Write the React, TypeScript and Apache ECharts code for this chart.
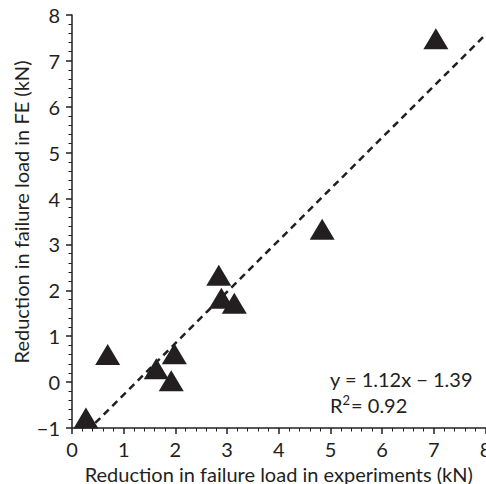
import React, { useEffect, useRef } from "react";
import * as echarts from "echarts";

const expX = [0.27, 0.69, 1.63, 1.92, 1.98, 2.84, 2.89, 3.14, 4.84, 7.04];
const feY = [-0.78, 0.6, 0.29, 0.03, 0.62, 2.33, 1.83, 1.72, 3.33, 7.48];
const trendX = [0.45, 8];
const trendY = [-0.89, 7.57];
const equationText = "y = 1.12x − 1.39";
const r2Value = "0.92";
const xTitle = "Reduction in failure load in experiments (kN)";
const yTitle = "Reduction in failure load in FE (kN)";

const FONT = "Lato, 'Open Sans', sans-serif";
const INK = "#231f20";

export default function App() {
  const ref = useRef<HTMLDivElement>(null);
  useEffect(() => {
    if (!ref.current) return;
    const chart = echarts.init(ref.current, undefined, { renderer: "svg" });
    const fmt = (v: number) => (v < 0 ? "−" + Math.abs(v) : String(v));
    const axisCommon = {
      axisLine: { show: true, onZero: false, lineStyle: { color: INK, width: 1.5 } },
      axisTick: { show: true, inside: false, length: 6, lineStyle: { color: INK, width: 1.5 } },
      minorTick: { show: true, splitNumber: 5, length: 3.5, lineStyle: { color: INK, width: 1 } },
      splitLine: { show: false },
      axisLabel: { color: INK, fontFamily: FONT, fontSize: 20, formatter: fmt },
      nameTextStyle: { color: INK, fontFamily: FONT, fontSize: 20 },
    };
    chart.setOption({
      animation: false,
      grid: { left: 72, right: 0.5, top: 15, bottom: 56, outerBoundsMode: "none" },
      xAxis: {
        type: "value",
        min: 0,
        max: 8,
        interval: 1,
        ...axisCommon,
        axisLabel: { ...axisCommon.axisLabel, margin: 11 },
        name: xTitle,
        nameLocation: "middle",
        nameGap: 28,
      },
      yAxis: {
        type: "value",
        min: -1,
        max: 8,
        interval: 1,
        ...axisCommon,
        axisLabel: { ...axisCommon.axisLabel, margin: 12 },
      },
      series: [
        {
          type: "line",
          data: trendX.map((x, i) => [x, trendY[i]]),
          symbol: "none",
          lineStyle: { color: INK, width: 2.5, type: [7, 5] },
          z: 1,
        },
        {
          type: "scatter",
          data: expX.map((x, i) => [x, feY[i]]),
          symbol: "triangle",
          symbolSize: [25, 21],
          itemStyle: { color: INK, opacity: 1 },
          z: 2,
        },
      ],
      graphic: [
        {
          type: "text",
          x: 21,
          y: 212,
          rotation: Math.PI / 2,
          style: {
            text: yTitle,
            fill: INK,
            font: `20px ${FONT}`,
            align: "center",
            verticalAlign: "middle",
          },
        },
        {
          type: "text",
          left: 330,
          top: 369,
          style: {
            text: equationText,
            fill: INK,
            font: `20px ${FONT}`,
          },
        },
        {
          type: "text",
          left: 330,
          top: 393,
          style: {
            text: "{a|R}{s|2}{a|= " + r2Value + "}",
            rich: {
              a: { fontSize: 20, fontFamily: FONT, fill: INK, color: INK, verticalAlign: "bottom" },
              s: { fontSize: 13, fontFamily: FONT, fill: INK, color: INK, verticalAlign: "top", padding: [0, 1, 9, 0] },
            },
          },
        },
      ],
    });
    return () => chart.dispose();
  }, []);
  return (
    <div
      ref={ref}
      style={{ position: "fixed", left: 0, top: 0, width: 486, height: 484, background: "#fff" }}
    />
  );
}
